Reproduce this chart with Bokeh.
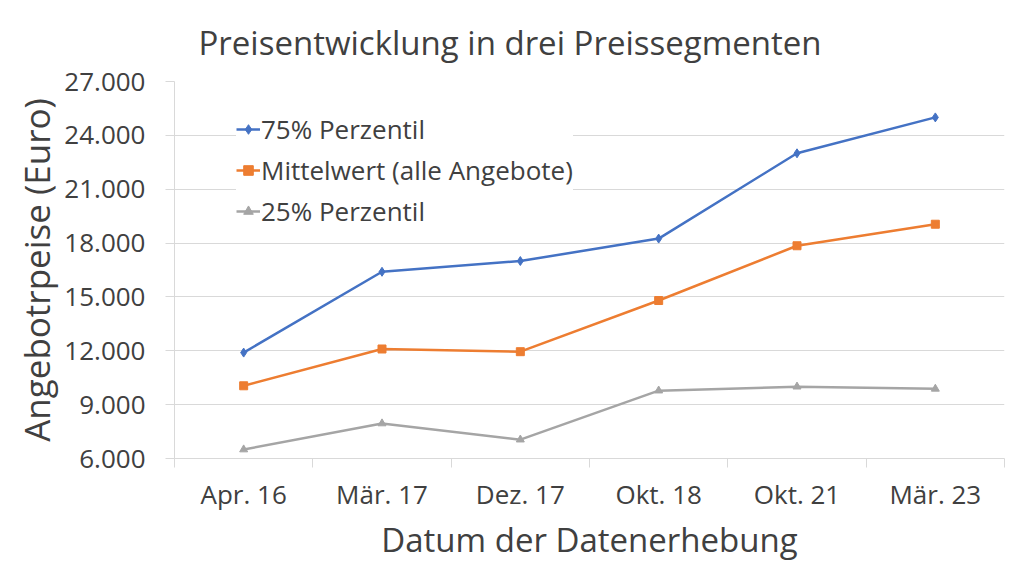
from bokeh.plotting import figure
from bokeh.models import FixedTicker, Legend, LegendItem
from bokeh.embed import file_html
from bokeh.resources import INLINE

categories = ["Apr. 16", "Mär. 17", "Dez. 17", "Okt. 18", "Okt. 21", "Mär. 23"]
p75 = [11900, 16400, 17000, 18250, 23000, 25000]
mean_all = [10050, 12100, 11950, 14800, 17850, 19050]
p25 = [6500, 7950, 7050, 9780, 10000, 9880]
y_ticks = [6000, 9000, 12000, 15000, 18000, 21000, 24000, 27000]
y_tick_labels = ["6.000", "9.000", "12.000", "15.000", "18.000", "21.000", "24.000", "27.000"]

FONT = "Open Sans"
TXT = "#404040"
GRID = "#d9d9d9"

xs = [i + 0.5 for i in range(len(categories))]

p = figure(width=1008, height=564, output_backend="svg", toolbar_location=None,
           x_range=(0, len(categories)), y_range=(6000, 27000),
           min_border_left=174, min_border_right=4, min_border_top=80, min_border_bottom=106)
p.outline_line_color = None
p.background_fill_color = "white"
p.border_fill_color = "white"

p.title.text = "Preisentwicklung in drei Preissegmenten"
p.title.text_font = FONT
p.title.text_font_size = "33px"
p.title.text_font_style = "normal"
p.title.text_color = TXT
p.title.align = "left"
p.title.offset = 24
p.title.standoff = 34

# grid
p.xgrid.grid_line_color = None
p.ygrid.grid_line_color = GRID
p.ygrid.grid_line_width = 1
p.ygrid.ticker = FixedTicker(ticks=y_ticks)

# y axis
p.yaxis.ticker = FixedTicker(ticks=y_ticks)
p.yaxis.major_label_overrides = {t: l for t, l in zip(y_ticks, y_tick_labels)}
p.yaxis.axis_line_color = GRID
p.yaxis.major_tick_line_color = GRID
p.yaxis.major_tick_out = 9
p.yaxis.major_tick_in = 0
p.yaxis.minor_tick_line_color = None
p.yaxis.major_label_text_font = FONT
p.yaxis.major_label_text_font_size = "26px"
p.yaxis.major_label_text_color = TXT
p.yaxis.major_label_standoff = 20
p.yaxis.axis_label = "Angebotrpeise (Euro)"
p.yaxis.axis_label_text_font = FONT
p.yaxis.axis_label_text_font_size = "35px"
p.yaxis.axis_label_text_font_style = "normal"
p.yaxis.axis_label_text_color = TXT
p.yaxis.axis_label_standoff = 1

# x axis
p.xaxis.ticker = FixedTicker(ticks=xs, minor_ticks=list(range(len(categories) + 1)))
p.xaxis.major_label_overrides = {x: c for x, c in zip(xs, categories)}
p.xaxis.axis_line_color = GRID
p.xaxis.major_tick_line_color = None
p.xaxis.minor_tick_line_color = GRID
p.xaxis.minor_tick_out = 9
p.xaxis.minor_tick_in = 0
p.xaxis.major_label_text_font = FONT
p.xaxis.major_label_text_font_size = "26px"
p.xaxis.major_label_text_color = TXT
p.xaxis.major_label_standoff = 8
p.xaxis.axis_label = "Datum der Datenerhebung"
p.xaxis.axis_label_text_font = FONT
p.xaxis.axis_label_text_font_size = "33px"
p.xaxis.axis_label_text_font_style = "normal"
p.xaxis.axis_label_text_color = TXT
p.xaxis.axis_label_standoff = 2

BLUE = "#4472C4"
ORANGE = "#ED7D31"
GRAY = "#A5A5A5"

l1 = p.line(xs, p75, line_color=BLUE, line_width=2.5)
m1 = p.scatter(xs, p75, marker="diamond", size=9, fill_color=BLUE, line_color=BLUE)
l2 = p.line(xs, mean_all, line_color=ORANGE, line_width=2.5)
m2 = p.scatter(xs, mean_all, marker="square", size=8, fill_color=ORANGE, line_color=ORANGE)
l3 = p.line(xs, p25, line_color=GRAY, line_width=2.5)
m3 = p.scatter(xs, p25, marker="triangle", size=8, fill_color=GRAY, line_color=GRAY)

legend = Legend(items=[
    LegendItem(label="75% Perzentil", renderers=[l1, m1]),
    LegendItem(label="Mittelwert (alle Angebote)", renderers=[l2, m2]),
    LegendItem(label="25% Perzentil", renderers=[l3, m3]),
], location=(62, 229))
legend.label_text_font = FONT
legend.label_text_font_size = "26px"
legend.label_text_color = TXT
legend.border_line_color = None
legend.background_fill_color = "white"
legend.background_fill_alpha = 1.0
legend.glyph_width = 24
legend.glyph_height = 30
legend.label_height = 30
legend.label_standoff = 1
legend.spacing = 5
legend.padding = 6
legend.margin = 0
p.add_layout(legend, "center")

open("out.html", "w").write(file_html(p, INLINE))
